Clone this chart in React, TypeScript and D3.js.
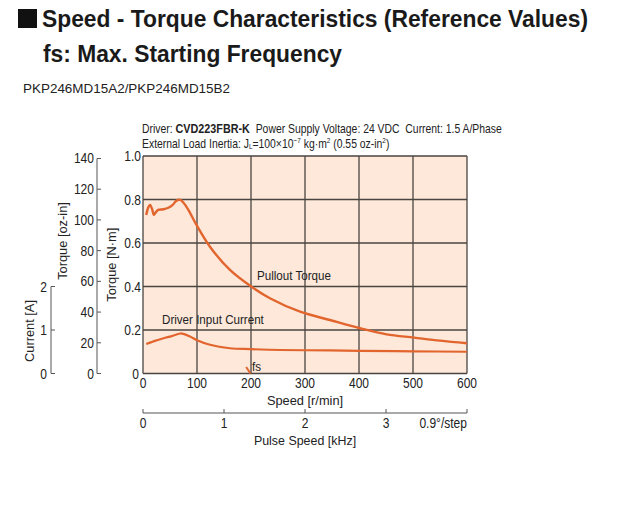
import React from "react";
import * as d3 from "d3";

const speedTicks = [0, 100, 200, 300, 400, 500, 600];
const torqueTicks = [0, 0.2, 0.4, 0.6, 0.8, 1.0];
const ozinTicks = [0, 20, 40, 60, 80, 100, 120, 140];
const currentTicks = [0, 1, 2];
const pulseTicks = [0, 1, 2, 3, 4];

// Pullout torque [N·m] vs speed [r/min]
const pulloutSpeed = [6, 10, 13, 17, 20, 24, 28, 38, 47, 55, 62, 69, 75, 84, 99, 124, 161, 199, 235, 291, 346, 402, 451, 502, 550, 600];
const pulloutTorque = [0.729, 0.765, 0.775, 0.755, 0.729, 0.742, 0.752, 0.755, 0.762, 0.775, 0.795, 0.798, 0.785, 0.752, 0.683, 0.583, 0.476, 0.402, 0.346, 0.284, 0.246, 0.208, 0.180, 0.165, 0.151, 0.139];

// Driver input current [A] vs speed [r/min]
const currentSpeed = [6, 13, 22, 38, 53, 69, 75, 87, 99, 124, 161, 199, 254, 346, 402, 500, 600];
const currentAmp = [0.68, 0.71, 0.75, 0.81, 0.86, 0.92, 0.91, 0.85, 0.77, 0.66, 0.58, 0.56, 0.54, 0.53, 0.52, 0.51, 0.50];

// fs: Max. starting frequency marker
const fsSpeed = [191, 199];
const fsTorque = [0.03, 0];

const ORANGE = "#e2652e";
const GRID = "#4a4540";
const FONT = "'Liberation Sans', Arial, sans-serif";
const TC = "#222";

type CTProps = {
  x: number;
  y: number;
  size?: number;
  sx?: number;
  anchor?: "start" | "middle" | "end";
  rotate?: number;
  weight?: string;
  children: React.ReactNode;
};

function CText({ x, y, size = 13.5, sx = 0.86, anchor = "start", rotate = 0, weight = "normal", children }: CTProps) {
  return (
    <text
      transform={`translate(${x},${y}) rotate(${rotate}) scale(${sx},1)`}
      fontSize={size}
      textAnchor={anchor}
      fontWeight={weight}
      fill={TC}
    >
      {children}
    </text>
  );
}

export default function App() {
  const x = d3.scaleLinear().domain([0, 600]).range([143, 467]);
  const y = d3.scaleLinear().domain([0, 1]).range([373.5, 156]);
  const yOz = d3.scaleLinear().domain([0, 141.612]).range([373.5, 156]);
  const yA = d3.scaleLinear().domain([0, 1]).range([373.5, y(0.2)]);
  const xk = d3.scaleLinear().domain([0, 4]).range([143, 467]);

  const line = d3.line<[number, number]>().x((d) => d[0]).y((d) => d[1]).curve(d3.curveCatmullRom.alpha(0.5));
  const pullPath = line(pulloutSpeed.map((s, i) => [x(s), y(pulloutTorque[i])]));
  const curPath = line(currentSpeed.map((s, i) => [x(s), yA(currentAmp[i])]));
  const fsPath = d3.line<[number, number]>()(fsSpeed.map((s, i) => [x(s), y(fsTorque[i])]));

  return (
    <svg width={633} height={512} style={{ position: "absolute", left: 0, top: 0, background: "#fff" }} fontFamily={FONT}>
      {/* Titles */}
      <rect x={18} y={9} width={19} height={19} fill="#111" />
      <text x={42} y={27} fontWeight="bold" fontSize={23} fill="#1a1a1a" textLength={546} lengthAdjust="spacingAndGlyphs">
        Speed - Torque Characteristics (Reference Values)
      </text>
      <text x={43} y={62} fontWeight="bold" fontSize={23} fill="#1a1a1a" textLength={299} lengthAdjust="spacingAndGlyphs">
        fs: Max. Starting Frequency
      </text>
      <text x={23} y={93} fontSize={12} fill="#222" textLength={207} lengthAdjust="spacingAndGlyphs">
        PKP246MD15A2/PKP246MD15B2
      </text>

      {/* Conditions */}
      <CText x={142} y={133} size={13} sx={0.8}>
        Driver: <tspan fontWeight="bold" fontSize={13.5}>CVD223FBR-K</tspan>{"\u00a0\u00a0"}Power Supply Voltage: 24 VDC{"\u00a0\u00a0"}Current: 1.5 A/Phase
      </CText>
      <CText x={142} y={148} size={13} sx={0.8}>
        External Load Inertia: J<tspan fontSize={8} dy={1}>L</tspan><tspan dy={-1}>=100×10</tspan><tspan fontSize={8} dy={-5}>−7</tspan><tspan dy={5}> kg·m</tspan><tspan fontSize={8} dy={-5}>2</tspan><tspan dy={5}> (0.55 oz-in</tspan><tspan fontSize={8} dy={-5}>2</tspan><tspan dy={5}>)</tspan>
      </CText>

      {/* Plot background */}
      <rect x={x(0)} y={y(1)} width={x(600) - x(0)} height={y(0) - y(1)} fill="#fde8da" />
      {speedTicks.map((s) => (
        <line key={"gx" + s} x1={x(s)} x2={x(s)} y1={y(0)} y2={y(1)} stroke={GRID} strokeWidth={1.3} />
      ))}
      {torqueTicks.map((t) => (
        <line key={"gy" + t} x1={x(0)} x2={x(600)} y1={y(t)} y2={y(t)} stroke={GRID} strokeWidth={1.3} />
      ))}

      {/* Curves */}
      <path d={pullPath ?? ""} fill="none" stroke={ORANGE} strokeWidth={2.4} />
      <path d={curPath ?? ""} fill="none" stroke={ORANGE} strokeWidth={2.2} />
      <path d={fsPath ?? ""} fill="none" stroke={ORANGE} strokeWidth={2} />

      <CText x={257} y={280}>Pullout Torque</CText>
      <CText x={162} y={324}>Driver Input Current</CText>
      <CText x={252} y={371}>fs</CText>

      {/* N·m axis labels */}
      {torqueTicks.map((t) => (
        <CText key={"ly" + t} x={t === 0 ? 139 : 141} y={y(t) + 5} size={14} anchor="end">
          {t === 0 ? "0" : t.toFixed(1)}
        </CText>
      ))}
      <CText x={116} y={(y(0) + y(1)) / 2} rotate={-90} anchor="middle" sx={0.95}>Torque [N·m]</CText>

      {/* oz-in axis */}
      <line x1={97} x2={97} y1={yOz(0)} y2={yOz(140)} stroke="#555" strokeWidth={1} />
      {ozinTicks.map((t) => (
        <g key={"oz" + t}>
          <line x1={97} x2={101} y1={yOz(t)} y2={yOz(t)} stroke="#555" />
          <CText x={94} y={yOz(t) + 5} size={14} anchor="end">{t}</CText>
        </g>
      ))}
      <CText x={67} y={241} rotate={-90} anchor="middle" sx={0.95}>Torque [oz-in]</CText>

      {/* current axis */}
      <line x1={51} x2={51} y1={yA(0)} y2={yA(2)} stroke="#555" strokeWidth={1} />
      {currentTicks.map((t) => (
        <g key={"ca" + t}>
          <line x1={51} x2={55} y1={yA(t)} y2={yA(t)} stroke="#555" />
          <CText x={47} y={yA(t) + 5} size={14} anchor="end">{t}</CText>
        </g>
      ))}
      <CText x={34} y={331} rotate={-90} anchor="middle" sx={0.95}>Current [A]</CText>

      {/* speed axis labels */}
      {speedTicks.map((s) => (
        <CText key={"lx" + s} x={x(s)} y={388} size={14} anchor="middle">{s}</CText>
      ))}
      <CText x={(x(0) + x(600)) / 2} y={405} anchor="middle" sx={0.95}>Speed [r/min]</CText>

      {/* pulse speed axis */}
      <line x1={xk(0)} x2={xk(4)} y1={413} y2={413} stroke="#555" />
      {pulseTicks.map((k) => (
        <line key={"pk" + k} x1={xk(k)} x2={xk(k)} y1={409} y2={413} stroke="#555" />
      ))}
      {pulseTicks.slice(0, 4).map((k) => (
        <CText key={"pl" + k} x={xk(k)} y={428} size={14} anchor="middle">{k}</CText>
      ))}
      <CText x={xk(4)} y={428} size={14} anchor="end">0.9°/step</CText>
      <CText x={(x(0) + x(600)) / 2} y={445} anchor="middle" sx={0.92}>Pulse Speed [kHz]</CText>
    </svg>
  );
}
